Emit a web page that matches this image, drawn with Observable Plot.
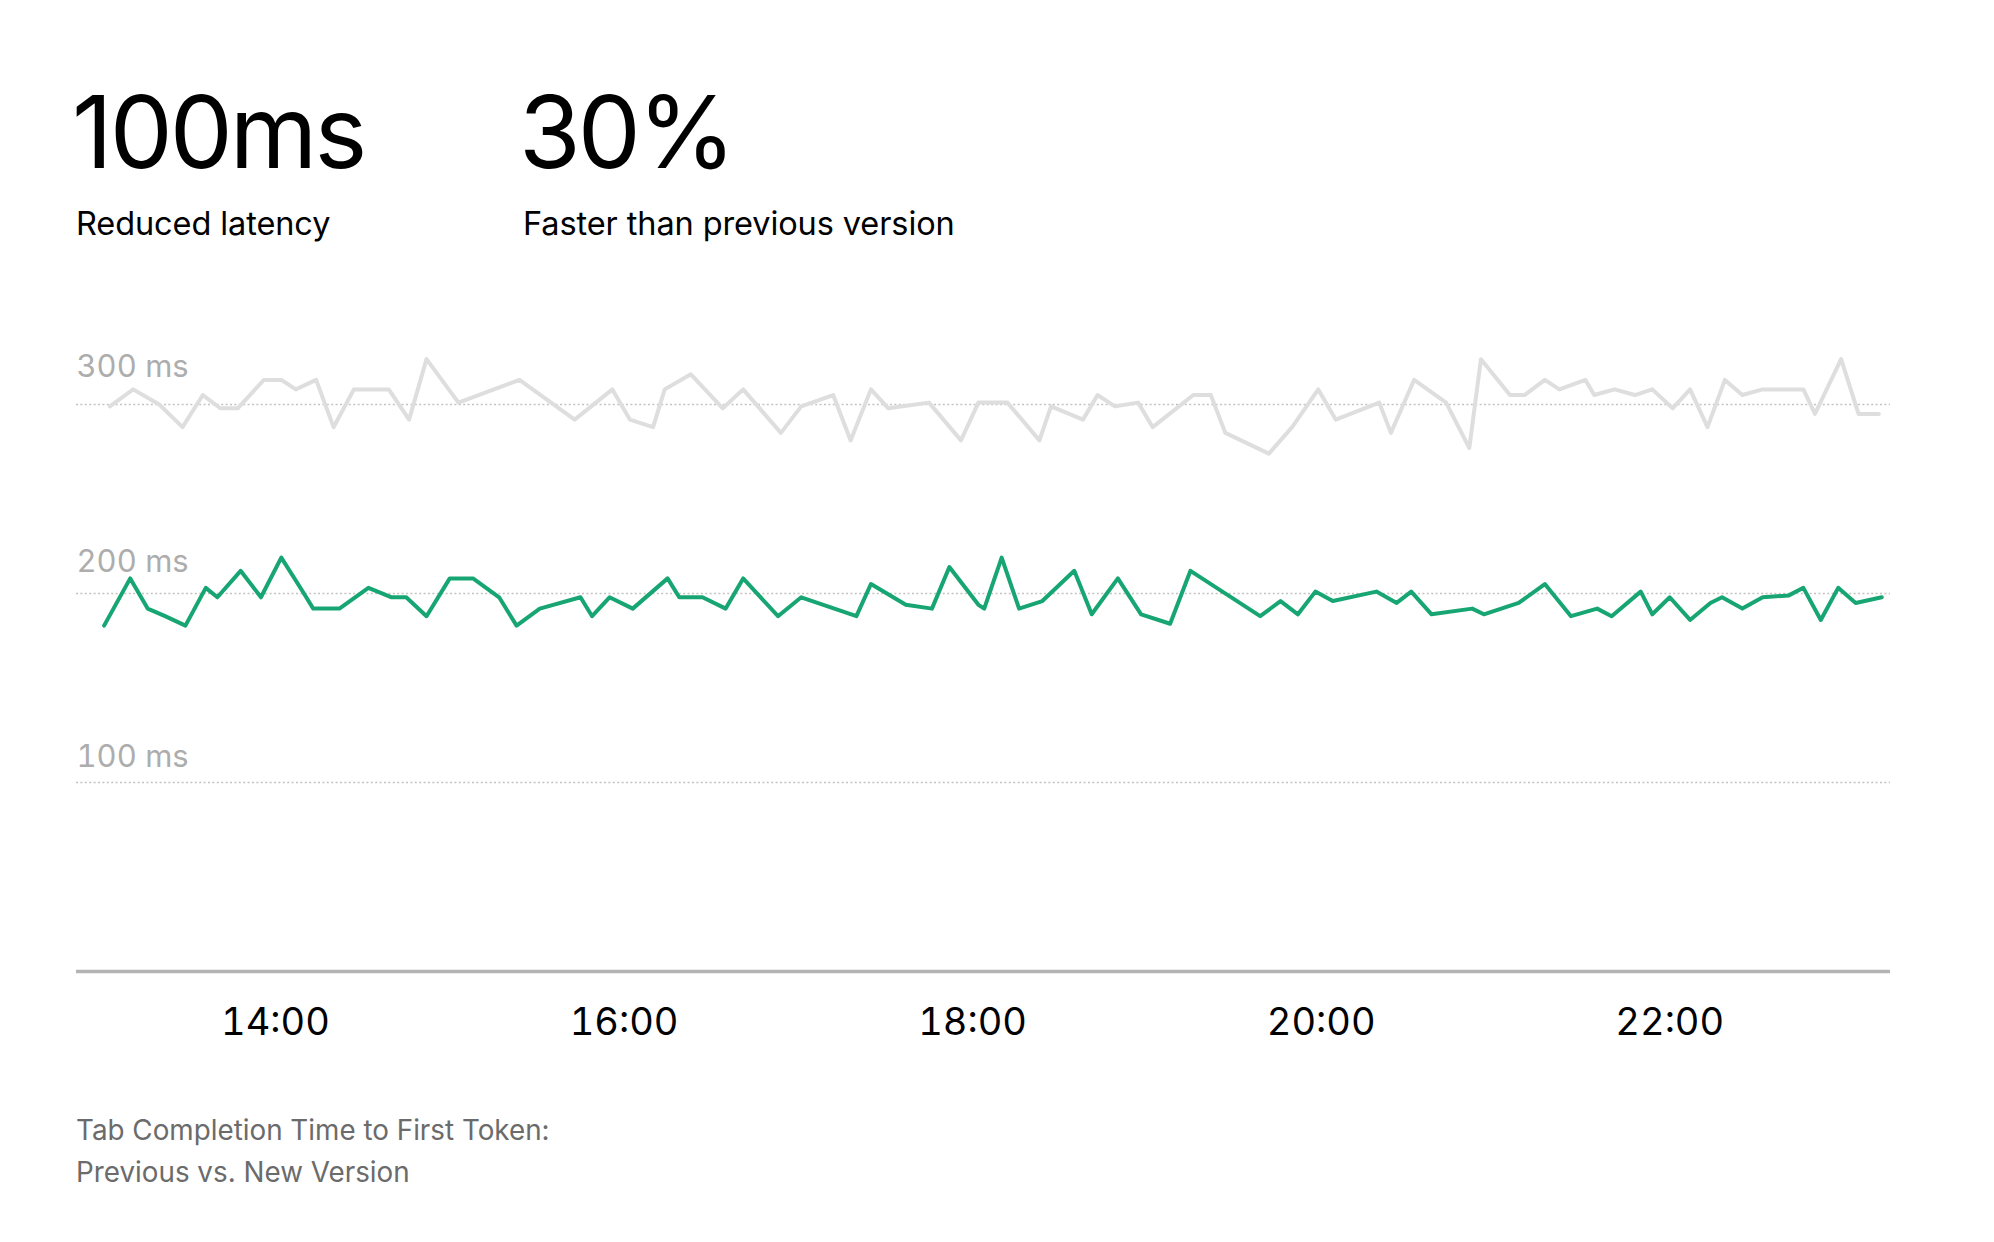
<!DOCTYPE html>
<html>
<head>
<meta charset="utf-8">
<script src="https://cdn.jsdelivr.net/npm/d3@7"></script>
<script src="https://cdn.jsdelivr.net/npm/@observablehq/plot@0.6"></script>
<style>
  html, body { margin: 0; padding: 0; background: #fff; overflow: hidden; }
  body { width: 1994px; height: 1242px; position: relative; font-family: "Inter", "Liberation Sans", sans-serif; }
  .abs { position: absolute; white-space: nowrap; }
  .big { font-size: 100px; line-height: 100px; color: #000; letter-spacing: -3px; }
  .sub { font-size: 32.5px; line-height: 33px; color: #000; letter-spacing: -0.1px; }
  .cap { font-size: 27.8px; line-height: 42px; color: #6b6b6b; }
  #chart { position: absolute; left: 0; top: 300px; }
</style>
</head>
<body>
<div class="abs big" style="left:72px; top:82px;">100ms</div>
<div class="abs sub" style="left:76px; top:207px;">Reduced latency</div>
<div class="abs big" style="left:519px; top:82px;">30%</div>
<div class="abs sub" style="left:523px; top:207px;">Faster than previous version</div>
<div id="chart"></div>
<div class="abs cap" style="left:76px; top:1109px;">Tab Completion Time to First Token:<br>Previous vs. New Version</div>
<script>
// Previous version (gray)
const previousTimes = ["13:03","13:11","13:20","13:28","13:35","13:41","13:47","13:56","14:02","14:07","14:14","14:20","14:27","14:39","14:46","14:52","15:03","15:24","15:43","15:56","16:02","16:10","16:14","16:23","16:34","16:41","16:54","17:01","17:12","17:18","17:25","17:31","17:45","17:56","18:02","18:12","18:23","18:27","18:38","18:43","18:49","18:57","19:02","19:16","19:22","19:27","19:42","19:50","19:59","20:05","20:20","20:24","20:32","20:43","20:51","20:55","21:05","21:10","21:17","21:22","21:31","21:34","21:41","21:48","21:54","22:01","22:07","22:13","22:19","22:25","22:32","22:46","22:50","22:59","23:05","23:12"];
const previousValues = [299,308,300,288,305,298,298,313,313,308,313,288,308,308,292,324,301,313,292,308,292,288,308,316,298,308,285,299,305,281,308,298,301,281,301,301,281,299,292,305,299,301,288,305,305,285,274,288,308,292,301,285,313,301,277,324,305,305,313,308,313,305,308,305,308,298,308,288,313,305,308,308,295,324,295,295];

// New version (green)
const newTimes = ["13:01","13:10","13:16","13:22","13:29","13:36","13:40","13:48","13:55","14:02","14:09","14:13","14:22","14:32","14:40","14:45","14:52","15:00","15:08","15:17","15:23","15:31","15:45","15:49","15:55","16:03","16:15","16:19","16:27","16:35","16:41","16:53","17:01","17:20","17:25","17:37","17:46","17:52","18:02","18:04","18:10","18:16","18:24","18:35","18:41","18:50","18:58","19:08","19:15","19:39","19:46","19:52","19:58","20:04","20:19","20:26","20:31","20:38","20:52","20:56","21:08","21:17","21:26","21:35","21:40","21:50","21:54","22:00","22:07","22:14","22:18","22:25","22:32","22:41","22:46","22:52","22:58","23:04","23:13"];
const newValues = [183,208,192,188,183,203,198,212,198,219,202,192,192,203,198,198,188,208,208,198,183,192,198,188,198,192,208,198,198,192,208,188,198,188,205,194,192,214,194,192,219,192,196,212,189,208,189,184,212,188,196,189,201,196,201,195,201,189,192,189,195,205,188,192,188,201,189,198,186,195,198,192,198,199,203,186,203,195,198];

const yTicks = [100, 200, 300];
const xTickLabels = ["14:00","16:00","18:00","20:00","22:00"];
const xDomain = ["12:51:30","23:16:00"];

const parseT = d3.timeParse("%H:%M");
const parseTS = d3.timeParse("%H:%M:%S");
const previous = previousTimes.map((t, i) => ({time: parseT(t), value: previousValues[i]}));
const current = newTimes.map((t, i) => ({time: parseT(t), value: newValues[i]}));
const xTicks = xTickLabels.map(parseT);

// each y label sits a little higher above its gridline as the value grows
const yLabelMarks = yTicks.map(v => Plot.axisY([v], {
  anchor: "left", tickSize: 0, tickPadding: 0, textAnchor: "start", lineAnchor: "bottom",
  dy: -(16 + 6 * (v / 100 - 1)), fontSize: 31, fill: "#adadad", tickFormat: d => `${d} ms`, label: null
}));

const chart = Plot.plot({
  width: 1994,
  height: 771,
  marginLeft: 76,
  marginRight: 104,
  marginTop: 104,
  marginBottom: 100,
  style: {fontFamily: "Inter, 'Liberation Sans', sans-serif", background: "transparent", overflow: "visible"},
  x: {type: "time", domain: xDomain.map(parseTS)},
  y: {domain: [0, 300]},
  marks: [
    Plot.gridY(yTicks, {stroke: "#c2c2c2", strokeOpacity: 1, strokeWidth: 1.5, strokeDasharray: "2,2.4"}),
    ...yLabelMarks,
    Plot.axisX(xTicks, {anchor: "bottom", tickSize: 0, tickPadding: 37, fontSize: 38, fill: "#000", tickFormat: d3.timeFormat("%H:%M"), label: null}),
    Plot.ruleY([0], {stroke: "#b3b3b3", strokeWidth: 3.5}),
    Plot.lineY(previous, {x: "time", y: "value", stroke: "#dedede", strokeWidth: 4}),
    Plot.lineY(current, {x: "time", y: "value", stroke: "#17a673", strokeWidth: 4})
  ]
});
document.getElementById("chart").appendChild(chart);
</script>
</body>
</html>
